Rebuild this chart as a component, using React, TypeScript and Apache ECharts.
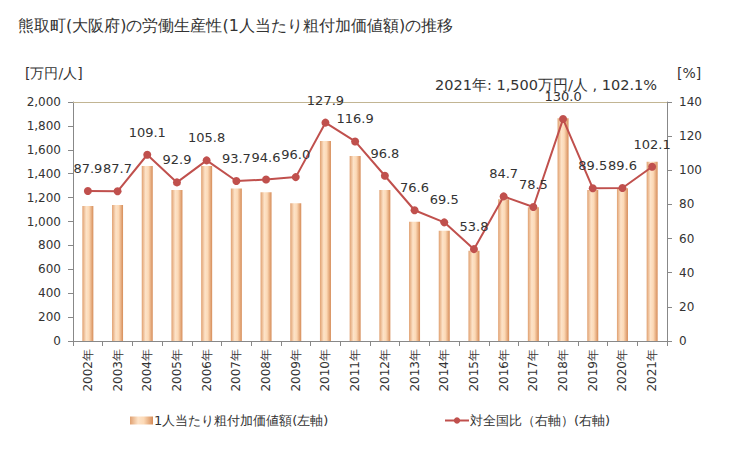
import React, { useEffect, useRef } from "react";
import * as echarts from "echarts";

const years = ["2002年","2003年","2004年","2005年","2006年","2007年","2008年","2009年","2010年","2011年","2012年","2013年","2014年","2015年","2016年","2017年","2018年","2019年","2020年","2021年"];
const perWorker = [1130,1138,1464,1264,1465,1277,1244,1152,1674,1548,1264,998,923,756,1186,1119,1864,1264,1278,1500];
const ratio = [87.9,87.7,109.1,92.9,105.8,93.7,94.6,96.0,127.9,116.9,96.8,76.6,69.5,53.8,84.7,78.5,130.0,89.5,89.6,102.1];

const FONT = "DejaVu Sans";

export default function App() {
  const ref = useRef<HTMLDivElement>(null);
  useEffect(() => {
    const chart = echarts.init(ref.current!, null, { renderer: "svg" });
    const barGrad = new echarts.graphic.LinearGradient(0, 0, 1, 0, [
      { offset: 0, color: "#e0a070" },
      { offset: 0.35, color: "#fde3c8" },
      { offset: 0.6, color: "#fcd9b6" },
      { offset: 1, color: "#d68c58" },
    ]);
    chart.setOption({
      animation: false,
      textStyle: { fontFamily: FONT },
      title: {
        text: "熊取町(大阪府)の労働生産性(1人当たり粗付加価値額)の推移",
        left: 13, top: 12,
        textStyle: { fontSize: 16, fontWeight: "normal", color: "#333", fontFamily: FONT },
      },
      graphic: [
        { type: "text", left: 25, top: 66, style: { text: "[万円/人]", fontSize: 14, fill: "#333", fontFamily: FONT } },
        { type: "text", left: 677, top: 66, style: { text: "[%]", fontSize: 14, fill: "#333", fontFamily: FONT } },
        { type: "text", right: 72, top: 77, style: { text: "2021年: 1,500万円/人 , 102.1%", fontSize: 14.5, fill: "#333", fontFamily: FONT } },
      ],
      legend: [
        {
          data: [{ name: "1人当たり粗付加価値額(左軸)", icon: "rect" }],
          left: 125, top: 409, itemWidth: 23, itemHeight: 8,
          textStyle: { fontSize: 13, color: "#333", fontFamily: FONT, padding: [0, 0, 0, -4] },
        },
        {
          data: [{ name: "対全国比（右軸）(右軸)" }],
          left: 439, top: 409, itemWidth: 24, itemHeight: 8,
          textStyle: { fontSize: 13, color: "#333", fontFamily: FONT, padding: [0, 0, 0, -4] },
        },
      ],
      grid: { left: 73, right: 62, top: 102, bottom: 109 },
      xAxis: {
        type: "category",
        data: years,
        axisLine: { lineStyle: { color: "#888" } },
        axisTick: { show: true, length: 5, lineStyle: { color: "#888" } },
        axisLabel: { rotate: 90, fontSize: 12, color: "#333", margin: 8, fontFamily: FONT },
      },
      yAxis: [
        {
          type: "value", min: 0, max: 2000, interval: 200,
          axisLine: { show: true, lineStyle: { color: "#888" } },
          axisTick: { show: true, length: 5, lineStyle: { color: "#888" } },
          axisLabel: {
            fontSize: 12, color: "#333", margin: 12, fontFamily: FONT,
            formatter: (v: number) => v.toLocaleString("en-US"),
          },
          splitLine: { show: false },
        },
        {
          type: "value", min: 0, max: 140, interval: 20,
          axisLine: { show: true, lineStyle: { color: "#888" } },
          axisTick: { show: true, length: 5, lineStyle: { color: "#888" } },
          axisLabel: { fontSize: 12, color: "#333", margin: 12, fontFamily: FONT },
          splitLine: { show: false },
        },
      ],
      series: [
        {
          name: "1人当たり粗付加価値額(左軸)",
          type: "bar",
          data: perWorker,
          barWidth: 11,
          itemStyle: { color: barGrad },
          markLine: {
            silent: true, symbol: "none", label: { show: false },
            lineStyle: { color: "#c2b593", type: "solid", width: 1 },
            data: [{ yAxis: 2000 }],
          },
        },
        {
          name: "対全国比（右軸）(右軸)",
          type: "line",
          yAxisIndex: 1,
          data: ratio,
          symbol: "circle",
          symbolSize: 8,
          itemStyle: { color: "#c0504d" },
          lineStyle: { color: "#c0504d", width: 2 },
          label: {
            show: true, position: "top", distance: 12, fontSize: 13, color: "#333", fontFamily: FONT,
            formatter: (p: any) => p.value.toFixed(1),
          },
          z: 5,
        },
      ],
    });
    return () => chart.dispose();
  }, []);
  return <div ref={ref} style={{ width: 729, height: 450, margin: -8 }} />;
}
